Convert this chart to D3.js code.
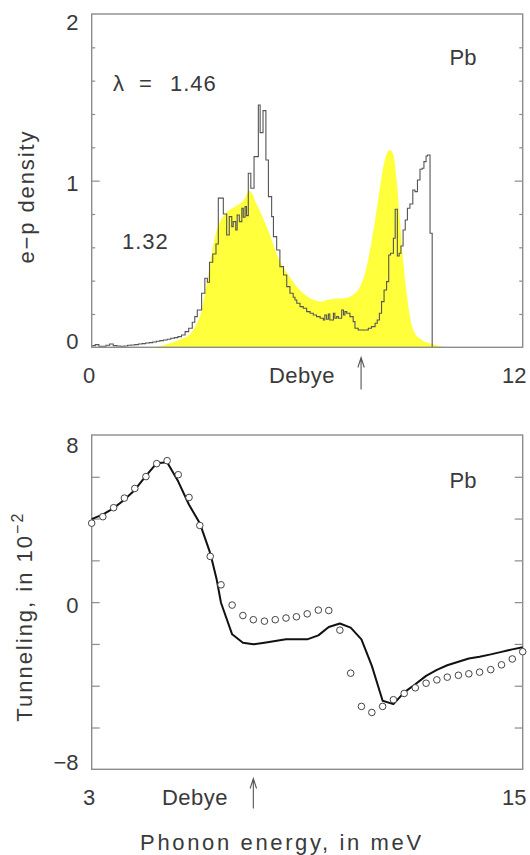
<!DOCTYPE html>
<html><head><meta charset="utf-8">
<script src="https://cdn.jsdelivr.net/npm/d3@7"></script>
<style>
body{margin:0;background:#fff}
svg{display:block}
text{font-family:"Liberation Sans",Arial,sans-serif;fill:#3a3a3a}
</style>
</head><body>
<svg id="c" width="530" height="855"></svg>
<script>
// ---------- top panel: e-p density ----------
const histX = [0.00,0.10,0.20,0.30,0.40,0.50,0.60,0.70,0.80,0.90,1.00,1.10,1.20,1.30,1.40,1.50,1.60,1.70,1.80,1.90,2.00,2.10,2.20,2.30,2.40,2.50,2.60,2.70,2.80,2.87,2.94,3.06,3.15,3.22,3.28,3.37,3.46,3.525,3.665,3.758,3.83,3.90,3.94,4.01,4.05,4.11,4.18,4.22,4.27,4.31,4.36,4.43,4.52,4.64,4.69,4.77,4.85,4.92,5.01,5.06,5.15,5.24,5.34,5.43,5.52,5.61,5.66,5.71,5.80,5.89,5.985,6.08,6.17,6.26,6.36,6.45,6.49,6.54,6.59,6.63,6.73,6.77,6.82,6.87,6.96,7.01,7.05,7.10,7.19,7.28,7.33,7.42,7.70,7.79,7.89,7.95,8.01,8.07,8.14,8.21,8.27,8.32,8.40,8.45,8.51,8.56,8.61,8.67,8.73,8.79,8.86,8.94,9.00,9.07,9.14,9.20,9.25,9.31,9.35,9.42,9.48];
const histY = [0.010,0.016,0.006,0.006,0.012,0.020,0.010,0.008,0.006,0.008,0.012,0.014,0.016,0.020,0.022,0.026,0.028,0.032,0.036,0.040,0.044,0.048,0.054,0.058,0.064,0.074,0.094,0.114,0.150,0.184,0.224,0.324,0.414,0.390,0.510,0.560,0.620,0.895,0.800,0.674,0.784,0.724,0.754,0.704,0.794,0.754,0.834,0.780,0.844,0.790,1.044,0.954,1.144,1.454,1.288,1.420,1.124,0.904,0.784,0.664,0.584,0.484,0.434,0.364,0.324,0.300,0.284,0.264,0.244,0.234,0.214,0.204,0.194,0.184,0.174,0.164,0.194,0.168,0.200,0.164,0.204,0.174,0.184,0.174,0.224,0.194,0.214,0.204,0.184,0.154,0.114,0.104,0.114,0.124,0.144,0.164,0.204,0.274,0.344,0.394,0.554,0.564,0.654,0.828,0.548,0.564,0.608,0.704,0.764,0.834,0.860,0.944,0.934,1.004,1.068,1.074,1.114,1.148,1.154,0.684,0];

const yellowX = [1.75,2.00,2.27,2.50,2.74,2.92,3.06,3.15,3.25,3.34,3.43,3.57,3.76,4.03,4.22,4.39,4.59,4.78,4.97,5.15,5.34,5.52,5.71,5.89,6.08,6.26,6.40,6.54,6.73,7.01,7.19,7.33,7.47,7.61,7.75,7.89,8.03,8.16,8.30,8.40,8.49,8.58,8.67,8.77,8.86,9.00,9.19,9.47,9.87];
const yellowY = [0,0.012,0.030,0.050,0.080,0.140,0.220,0.320,0.440,0.560,0.660,0.750,0.810,0.850,0.880,0.940,0.860,0.770,0.670,0.560,0.480,0.420,0.364,0.324,0.294,0.280,0.274,0.284,0.290,0.294,0.304,0.324,0.364,0.444,0.584,0.764,0.964,1.124,1.184,1.154,1.004,0.764,0.524,0.324,0.184,0.084,0.044,0.020,0];

const topYTickLabels = ["0","1","2"];
const topXTickLabels = ["0","12"];
const debye = 7.5;

// ---------- bottom panel: tunneling ----------
const pointsX = [3.00,3.31,3.61,3.91,4.20,4.51,4.81,5.10,5.41,5.71,6.01,6.30,6.60,6.91,7.21,7.50,7.81,8.11,8.41,8.70,9.00,9.31,9.60,9.91,10.21,10.51,10.80,11.10,11.40,11.70,12.01,12.31,12.61,12.90,13.21,13.50,13.80,14.11,14.41,14.71,15.00];
const pointsY = [3.78,4.09,4.52,4.98,5.44,6.01,6.63,6.77,6.10,5.01,3.67,2.19,0.83,-0.14,-0.64,-0.84,-0.91,-0.84,-0.76,-0.70,-0.56,-0.38,-0.40,-1.34,-3.40,-4.99,-5.28,-4.99,-4.67,-4.37,-4.10,-3.88,-3.72,-3.59,-3.50,-3.43,-3.35,-3.23,-3.00,-2.72,-2.37];
const lineX = [3.00,3.33,3.61,3.91,4.20,4.51,4.81,5.10,5.41,5.71,6.01,6.30,6.48,6.60,6.91,7.21,7.50,7.81,8.11,8.41,8.70,9.00,9.31,9.60,9.91,10.21,10.51,10.80,11.10,11.40,11.70,12.01,12.31,12.61,12.90,13.21,13.50,13.80,14.11,14.41,14.71,15.00];
const lineY = [3.97,4.21,4.50,4.90,5.37,6.04,6.65,6.69,5.77,4.66,3.78,2.35,1.08,-0.03,-1.54,-1.94,-2.02,-1.94,-1.86,-1.78,-1.78,-1.78,-1.59,-1.19,-1.02,-1.22,-1.78,-3.05,-4.72,-4.88,-4.32,-3.93,-3.53,-3.24,-3.02,-2.85,-2.70,-2.61,-2.50,-2.38,-2.26,-2.16];
const botYTickLabels = ["\u22128","0","8"];
const botXTickLabels = ["3","15"];

// ---------- drawing ----------
const svg = d3.select("#c");
const FS = 22;
const frameCol = "#8c8c8c";

const xTop = d3.scaleLinear().domain([0,12]).range([91.7,522.7]);
const yTop = d3.scaleLinear().domain([0,2]).range([347.3,14]);
const xBot = d3.scaleLinear().domain([3,15]).range([91.7,522.7]);
const yBot = d3.scaleLinear().domain([-8,8]).range([769.3,435]);

function ticks(scaleX, scaleY, values, size){
  const [x0,x1] = scaleX.range();
  svg.append("g").attr("transform",`translate(${x0},0)`)
    .call(d3.axisRight(scaleY).tickValues(values).tickSize(size).tickFormat(""))
    .call(g=>{g.select(".domain").remove();g.selectAll("line").attr("stroke",frameCol).attr("stroke-width",1.2);});
  svg.append("g").attr("transform",`translate(${x1},0)`)
    .call(d3.axisRight(scaleY).tickValues(values).tickSize(-size).tickFormat(""))
    .call(g=>{g.select(".domain").remove();g.selectAll("line").attr("stroke",frameCol).attr("stroke-width",1.2);});
}

// top panel
const topPts = yellowX.map((x,i)=>[x,yellowY[i]]);
svg.append("path").datum(topPts)
  .attr("d", d3.area().x(d=>xTop(d[0])).y0(yTop(0)).y1(d=>yTop(d[1])).curve(d3.curveMonotoneX))
  .attr("fill","#ffff3c");
const hPts = histX.map((x,i)=>[x,histY[i]]);
svg.append("path").datum(hPts)
  .attr("d", d3.line().x(d=>xTop(d[0])).y(d=>yTop(d[1])).curve(d3.curveStepAfter))
  .attr("fill","none").attr("stroke","#555").attr("stroke-width",1.1);

ticks(xTop, yTop, d3.range(0.2,2.0,0.2).filter(v=>Math.abs(v-1)>1e-6), 3.5);
ticks(xTop, yTop, [1], 8);
svg.append("rect").attr("x",xTop(0)).attr("y",yTop(2)).attr("width",xTop(12)-xTop(0)).attr("height",yTop(0)-yTop(2))
  .attr("fill","none").attr("stroke",frameCol).attr("stroke-width",1.4);

const yOff = [-6, 2.5, 8];
topYTickLabels.forEach((t,i)=>{
  svg.append("text").attr("x",78.5).attr("y",yTop(+t)+yOff[i]).attr("text-anchor","end")
    .attr("dominant-baseline","central").attr("font-size",FS).text(t);
});
topXTickLabels.forEach((t,i)=>{
  svg.append("text").attr("x",xTop(+t)+(i?-8.5:-2.5)).attr("y",382.5).attr("text-anchor","middle")
    .attr("font-size",FS).text(t);
});
svg.append("text").attr("x",302).attr("y",382.5).attr("text-anchor","middle").attr("font-size",FS).attr("letter-spacing",0.5).text("Debye");
function arrow(x,y0,y1){
  svg.append("path").attr("d",`M${x},${y1}L${x},${y0}M${x-3.2},${y0+10}L${x},${y0}L${x+3.2},${y0+10}`)
    .attr("fill","none").attr("stroke","#555").attr("stroke-width",1.1);
}
arrow(xTop(debye),357.5,389.5);
svg.append("text").attr("x",463).attr("y",64.5).attr("text-anchor","middle").attr("font-size",FS).text("Pb");
const lam = svg.append("text").attr("y",91).attr("font-size",FS);
lam.append("tspan").attr("x",113).text("\u03bb");
lam.append("tspan").attr("x",139).text("=");
lam.append("tspan").attr("x",170).attr("letter-spacing",1).text("1.46");
svg.append("text").attr("x",122).attr("y",249).attr("font-size",FS).attr("letter-spacing",1).text("1.32");
svg.append("text").attr("transform","translate(34,197.5) rotate(-90)").attr("text-anchor","middle")
  .attr("font-size",FS).attr("textLength",132).attr("lengthAdjust","spacing").text("e\u2212p density");

// bottom panel
ticks(xBot, yBot, d3.range(-6,8,2), 8);
svg.append("rect").attr("x",xBot(3)).attr("y",yBot(8)).attr("width",xBot(15)-xBot(3)).attr("height",yBot(-8)-yBot(8))
  .attr("fill","none").attr("stroke",frameCol).attr("stroke-width",1.4);
const lPts = lineX.map((x,i)=>[x,lineY[i]]);
svg.append("path").datum(lPts)
  .attr("d", d3.line().x(d=>xBot(d[0])).y(d=>yBot(d[1])))
  .attr("fill","none").attr("stroke","#111").attr("stroke-width",2).attr("stroke-linejoin","round");
svg.append("g").selectAll("circle").data(pointsX.map((x,i)=>[x,pointsY[i]])).join("circle")
  .attr("cx",d=>xBot(d[0])).attr("cy",d=>yBot(d[1])).attr("r",3.3)
  .attr("fill","#fff").attr("stroke","#444").attr("stroke-width",1);

const bOff = [-7, 3, 10];
botYTickLabels.forEach((t,i)=>{
  const v = [-8,0,8][i];
  svg.append("text").attr("x",78.5).attr("y",yBot(v)+bOff[i]).attr("text-anchor","end")
    .attr("dominant-baseline","central").attr("font-size",FS).text(t);
});
botXTickLabels.forEach((t,i)=>{
  svg.append("text").attr("x",xBot(+t)+(i?-8.5:-2.5)).attr("y",805).attr("text-anchor","middle")
    .attr("font-size",FS).text(t);
});
svg.append("text").attr("x",195).attr("y",805).attr("text-anchor","middle").attr("font-size",FS).attr("letter-spacing",0.5).text("Debye");
arrow(xBot(debye),778.5,808.5);
svg.append("text").attr("x",463).attr("y",488).attr("text-anchor","middle").attr("font-size",FS).text("Pb");
const tl = svg.append("text").attr("transform","translate(32,616.7) rotate(-90)").attr("text-anchor","middle").attr("font-size",FS).attr("letter-spacing",2);
tl.append("tspan").text("Tunneling,  in  10");
tl.append("tspan").attr("dy",-9).attr("font-size",16).text("\u22122");
svg.append("text").attr("x",280.6).attr("y",850).attr("text-anchor","middle").attr("font-size",FS)
  .attr("textLength",281).attr("lengthAdjust","spacing").text("Phonon energy, in meV");
</script>
</body></html>
